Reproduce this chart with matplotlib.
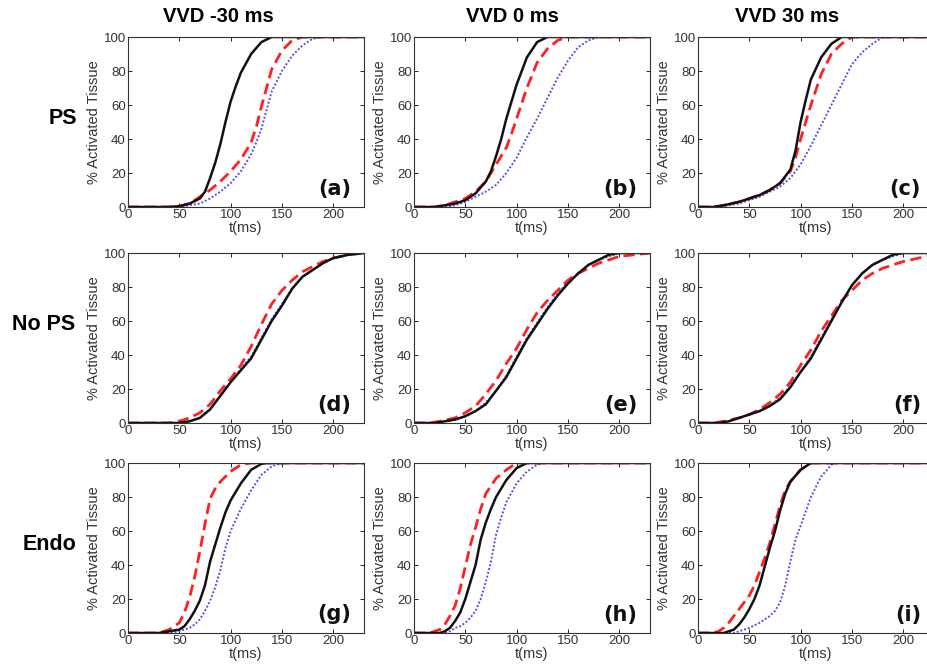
import matplotlib
matplotlib.use("Agg")
import matplotlib.pyplot as plt

plt.rcParams['font.family'] = ['Liberation Sans', 'DejaVu Sans']

#column and row titles
col_titles = ["VVD -30 ms", "VVD 0 ms", "VVD 30 ms"]
row_titles = ["PS", "No PS", "Endo"]
panel_tags = ["(a)", "(b)", "(c)", "(d)", "(e)", "(f)", "(g)", "(h)", "(i)"]

#curves: (t in ms, % activated tissue)
#panel (a)
a_black = [(0,0),(40,0),(50,0.5),(60,2),(70,5),(75,9),(80,17),(85,26),(90,37),(95,50),(100,62),(105,71),(110,79),(120,90),(130,97),(140,100),(230,100)]
a_red = [(0,0),(40,0),(50,0.5),(60,2),(70,6),(80,10),(90,15),(100,21),(110,28),(115,33),(120,38),(125,47),(130,59),(135,70),(140,81),(150,92),(160,98),(170,100),(230,100)]
a_blue = [(0,0),(50,0),(60,1),(70,2),(80,5),(90,9),(100,14),(110,21),(120,31),(125,38),(130,46),(135,57),(140,68),(150,80),(160,89),(170,95),(180,99),(190,100),(230,100)]
#panel (b)
b_black = [(0,0),(20,0),(30,1),(40,2),(50,4),(60,8),(70,15),(75,21),(80,30),(85,40),(90,52),(95,62),(100,72),(110,88),(120,97),(130,100),(230,100)]
b_red = [(0,0),(20,0),(30,1),(40,3),(50,5),(60,9),(70,15),(80,25),(90,35),(95,43),(100,52),(105,61),(110,70),(120,85),(130,93),(140,98),(150,100),(230,100)]
b_blue = [(0,0),(30,0),(40,1),(50,3),(60,6),(70,9),(80,13),(90,20),(100,29),(110,41),(120,52),(130,64),(140,76),(150,86),(160,94),(170,98),(180,100),(230,100)]
#panel (c)
c_black = [(0,0),(15,0),(25,1),(40,3),(50,5),(60,7),(70,10),(80,14),(90,22),(95,33),(100,50),(105,63),(110,75),(120,88),(130,96),(140,100),(230,100)]
c_red = [(0,0),(15,0),(25,1),(40,3),(50,5),(60,7),(70,10),(80,14),(90,21),(95,29),(100,40),(105,50),(110,60),(120,78),(130,90),(140,96),(150,100),(230,100)]
c_blue = [(0,0),(20,0),(30,1),(40,2),(50,4),(60,6),(70,9),(80,12),(90,17),(100,25),(110,36),(120,48),(130,60),(140,72),(150,84),(160,91),(170,96),(180,100),(230,100)]
#panel (d)
d_black = [(0,0),(50,0),(60,1),(70,3),(80,8),(90,16),(100,24),(110,31),(120,38),(130,49),(140,60),(150,69),(160,79),(170,86),(180,90),(190,94),(200,97),(215,99),(230,100)]
d_red = [(0,0),(40,0),(50,1),(60,3),(70,6),(80,11),(90,19),(100,26),(110,34),(120,45),(130,58),(140,70),(150,78),(160,84),(170,89),(180,92),(190,95),(200,97),(215,99),(230,100)]
d_blue = [(0,0),(50,0),(60,1),(70,3),(80,8),(90,16),(100,24),(110,32),(120,39),(130,50),(140,61),(150,70),(160,79),(170,86),(180,90),(190,94),(200,97),(215,99),(230,100)]
#panel (e)
e_black = [(0,0),(20,0),(30,1),(40,2),(50,4),(60,7),(70,11),(80,19),(90,27),(100,38),(110,49),(120,58),(130,67),(140,75),(150,82),(160,88),(170,93),(180,96),(190,99),(200,100),(230,100)]
e_red = [(0,0),(15,0),(25,1),(40,3),(50,6),(60,10),(70,17),(80,25),(90,35),(100,44),(110,55),(120,65),(130,72),(140,78),(150,84),(160,88),(170,91),(180,94),(190,96),(200,98),(215,99),(230,100)]
e_blue = [(0,0),(20,0),(30,1),(40,2),(50,4),(60,7),(70,12),(80,19),(90,28),(100,39),(110,50),(120,59),(130,68),(140,76),(150,83),(160,88),(170,93),(180,96),(190,98),(200,100),(230,100)]
#panel (f)
f_black = [(0,0),(20,0),(30,1),(40,3),(50,5),(60,7),(70,10),(80,14),(90,21),(100,30),(110,38),(120,49),(130,60),(140,71),(150,81),(160,88),(170,93),(180,96),(190,99),(200,100),(230,100)]
f_red = [(0,0),(15,0),(25,1),(40,3),(50,5),(60,8),(70,12),(80,17),(90,24),(100,34),(110,43),(120,54),(130,63),(140,72),(150,78),(160,84),(170,88),(180,91),(190,93),(200,95),(215,97),(230,99)]
f_blue = [(0,0),(20,0),(30,1),(40,3),(50,5),(60,7),(70,10),(80,15),(90,22),(100,30),(110,39),(120,50),(130,61),(140,71),(150,81),(160,88),(170,93),(180,96),(190,98),(200,100),(230,100)]
#panel (g)
g_black = [(0,0),(30,0),(40,1),(50,2),(55,4),(60,8),(65,13),(70,19),(75,28),(80,42),(85,52),(90,62),(95,71),(100,78),(110,88),(120,96),(130,99.5),(135,100),(230,100)]
g_red = [(0,0),(30,0),(40,2),(45,4),(50,6),(55,12),(60,21),(65,33),(70,48),(75,64),(80,79),(85,85),(90,89),(100,95),(110,99),(120,100),(230,100)]
g_blue = [(0,0),(40,0),(50,1),(60,3),(65,5),(70,8),(75,13),(80,19),(85,27),(90,37),(95,50),(100,60),(110,73),(120,84),(130,93),(140,98),(150,100),(230,100)]
#panel (h)
h_black = [(0,0),(25,0),(30,1),(35,3),(40,7),(45,12),(50,20),(55,30),(60,40),(65,55),(70,65),(75,73),(80,80),(90,90),(100,97),(110,100),(230,100)]
h_red = [(0,0),(15,0),(20,1),(25,2),(30,5),(35,10),(40,16),(45,26),(50,39),(55,52),(60,62),(65,73),(70,82),(80,91),(90,96),(100,100),(230,100)]
h_blue = [(0,0),(30,0),(35,1),(40,3),(45,4),(50,6),(55,9),(60,13),(65,20),(70,30),(75,42),(80,58),(85,68),(90,77),(100,88),(110,95),(120,99),(125,100),(230,100)]
#panel (i)
i_black = [(0,0),(25,0),(30,1),(35,2),(40,5),(45,9),(50,14),(55,20),(60,28),(65,39),(70,50),(75,60),(80,72),(85,82),(90,89),(100,96),(110,100),(230,100)]
i_red = [(0,0),(15,0),(20,1),(25,3),(30,6),(35,10),(40,14),(45,18),(50,22),(55,28),(60,36),(65,44),(70,53),(75,64),(80,75),(85,84),(90,89),(100,96),(110,100),(230,100)]
i_blue = [(0,0),(35,0),(40,1),(50,3),(60,6),(70,10),(75,13),(80,18),(85,28),(90,42),(95,55),(100,63),(110,80),(120,92),(130,99),(135,100),(230,100)]

panels = [(a_black, a_red, a_blue), (b_black, b_red, b_blue), (c_black, c_red, c_blue),
          (d_black, d_red, d_blue), (e_black, e_red, e_blue), (f_black, f_red, f_blue),
          (g_black, g_red, g_blue), (h_black, h_red, h_blue), (i_black, i_red, i_blue)]

#layout in pixels
W, H = 928, 665
col_left = [128, 414, 698]
row_top = [37, 253, 463]
ax_w, ax_h = 236, 170

fig = plt.figure(figsize=(W/100, H/100), dpi=100)
fig.patch.set_facecolor("white")

for k, (blk, red, blu) in enumerate(panels):
    r, c = divmod(k, 3)
    ax = fig.add_axes([col_left[c]/W, 1-(row_top[r]+ax_h)/H, ax_w/W, ax_h/H])
    ax.plot([p[0] for p in blu], [p[1] for p in blu], color="#5050e8", lw=1.4, ls=(0, (1, 1)))
    ax.plot([p[0] for p in red], [p[1] for p in red], color="#ff2020", lw=2.0, ls=(0, (4, 2)))
    ax.plot([p[0] for p in blk], [p[1] for p in blk], color="#111111", lw=1.8)
    ax.set_xlim(0, 230)
    ax.set_ylim(0, 100)
    ax.set_xticks([0, 50, 100, 150, 200])
    ax.set_yticks([0, 20, 40, 60, 80, 100])
    ax.tick_params(direction="in", top=True, right=True, length=3, width=0.6,
                   labelsize=9.5, labelcolor="#333333", pad=1.5)
    for s in ax.spines.values():
        s.set_linewidth(0.8)
        s.set_color("#333333")
    ax.set_xlabel("t(ms)", fontsize=10.5, color="#333333", labelpad=0)
    ax.set_ylabel("% Activated Tissue", fontsize=10.5, color="#333333", labelpad=2)
    ax.text(0.945, 0.05, panel_tags[k], transform=ax.transAxes, ha="right", va="bottom",
            fontsize=15, fontweight="bold", color="#111111", family="DejaVu Sans")

#column headings
for x, t in zip([218, 512, 787], col_titles):
    fig.text(x/W, 1-17/H, t, ha="center", va="center", fontsize=14.5, fontweight="bold")

#row headings
for x, y, t in zip([63, 44, 50], [118, 325, 545], row_titles):
    fig.text(x/W, 1-y/H, t, ha="center", va="center", fontsize=15.5, fontweight="bold")

fig.savefig("out.png", dpi=100)
